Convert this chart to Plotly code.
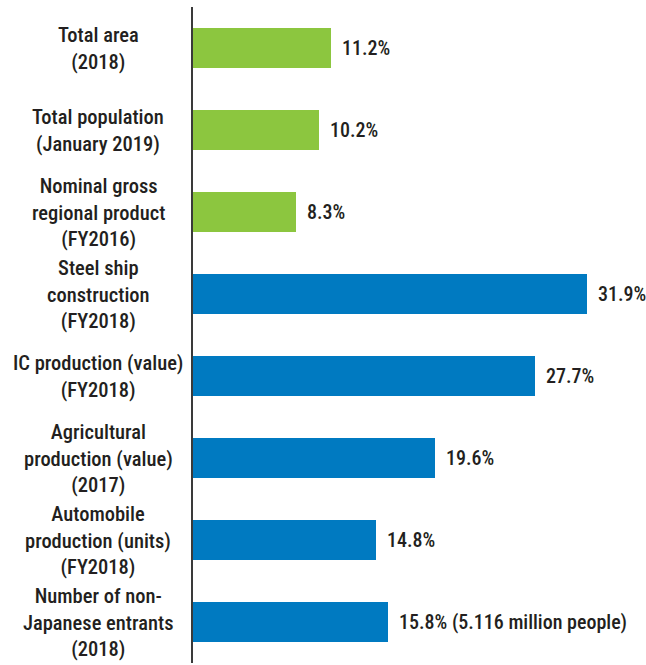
import plotly.graph_objects as go

# Shares (%) by indicator
categories = [
    "Total area<br>(2018)",
    "Total population<br>(January 2019)",
    "Nominal gross<br>regional product<br>(FY2016)",
    "Steel ship<br>construction<br>(FY2018)",
    "IC production (value)<br>(FY2018)",
    "Agricultural<br>production (value)<br>(2017)",
    "Automobile<br>production (units)<br>(FY2018)",
    "Number of non-<br>Japanese entrants<br>(2018)",
]
values = [11.2, 10.2, 8.3, 31.9, 27.7, 19.6, 14.8, 15.8]
notes = ["", "", "", "", "", "", "", " (5.116 million people)"]
groups = ["general", "general", "general", "industry", "industry", "industry", "industry", "industry"]

GREEN = "#8cc63f"
BLUE = "#007ac1"
TEXT = "#231f20"
FONT = "Roboto Condensed, Liberation Sans Narrow, Arial Narrow, Liberation Sans, sans-serif"

colors = [GREEN if g == "general" else BLUE for g in groups]
idx = list(range(len(categories)))

fig = go.Figure(
    go.Bar(
        x=values,
        y=idx,
        orientation="h",
        marker=dict(color=colors, line=dict(width=0)),
        width=0.48,
        hoverinfo="skip",
    )
)

annotations = []
for i, (cat, v, n) in enumerate(zip(categories, values, notes)):
    # value label to the right of each bar
    annotations.append(dict(
        x=v, y=i, xref="x", yref="y",
        text=f"{v}%{n}", showarrow=False,
        xanchor="left", yanchor="middle", xshift=9,
        font=dict(family=FONT, size=20, color=TEXT, weight=500),
    ))
    # centered category label left of the axis
    annotations.append(dict(
        x=-95 / 453, y=i, xref="paper", yref="y",
        text=cat, showarrow=False, align="center",
        xanchor="center", yanchor="middle",
        font=dict(family=FONT, size=20.5, color=TEXT, weight=500),
    ))

fig.update_layout(
    width=646, height=665,
    margin=dict(l=193, r=0, t=7, b=2),
    paper_bgcolor="white", plot_bgcolor="white",
    showlegend=False,
    bargap=0,
    xaxis=dict(range=[0, 36.68], visible=False, fixedrange=True),
    yaxis=dict(
        range=[7.5, -0.5], showgrid=False, zeroline=False,
        showticklabels=False, ticks="",
        showline=True, linecolor="#3a3a3a", linewidth=1.5,
    ),
    annotations=annotations,
)

fig.write_html("out.html")
